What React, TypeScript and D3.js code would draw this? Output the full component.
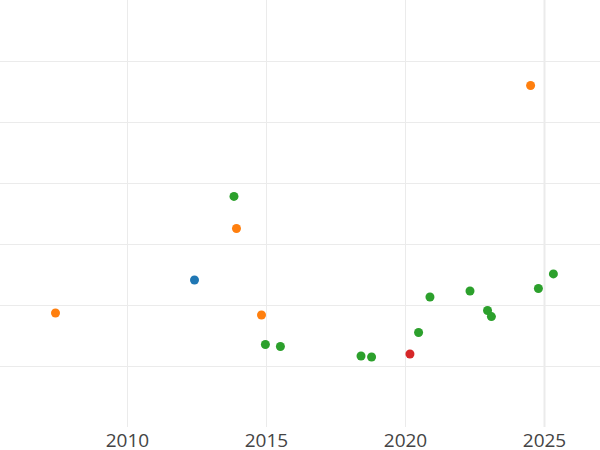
import React from "react";
import * as d3 from "d3";

const years: number[] = [2007.41, 2012.41, 2013.83, 2013.92, 2014.82, 2014.96, 2015.5, 2018.4, 2018.78, 2020.16, 2020.47, 2020.88, 2022.32, 2022.95, 2023.09, 2024.78, 2025.32, 2024.5];
const values: number[] = [0.869, 1.41, 2.78, 2.254, 0.836, 0.352, 0.32, 0.164, 0.148, 0.197, 0.549, 1.131, 1.23, 0.91, 0.81, 1.27, 1.51, 4.598];
const groups: string[] = ["B", "A", "C", "B", "B", "C", "C", "C", "C", "D", "C", "C", "C", "C", "C", "C", "C", "B"];
const groupNames: string[] = ["A", "B", "C", "D"];
const groupColors: string[] = ["#1f77b4", "#ff7f0e", "#2ca02c", "#d62728"];
const xTicks: number[] = [2010, 2015, 2020, 2025];
const yTicks: number[] = [0, 1, 2, 3, 4, 5];

export default function App() {
  const W = 600, H = 450;
  const plotBottom = 427;
  const x = d3.scaleLinear().domain([2005.414, 2026.996]).range([0, 600]);
  const y = d3.scaleLinear().domain([-1, 6]).range([plotBottom, 0]);
  const color = d3.scaleOrdinal<string, string>().domain(groupNames).range(groupColors);

  return (
    <svg width={W} height={H} style={{ position: "absolute", left: 0, top: 0, background: "#fff" }}>
      <g>
        {yTicks.map((t) => (
          <line key={"y" + t} x1={0} x2={W} y1={Math.round(y(t)) + 0.5} y2={Math.round(y(t)) + 0.5} stroke="#ebebeb" strokeWidth={1} />
        ))}
        {xTicks.map((t) => (
          <line key={"x" + t} x1={x(t)} x2={x(t)} y1={0} y2={plotBottom} stroke="#ebebeb" strokeWidth={t === 2025 ? 2 : 1} />
        ))}
      </g>
      <g>
        {years.map((yr, i) => (
          <circle key={i} cx={x(yr)} cy={y(values[i])} r={4.5} fill={color(groups[i])} />
        ))}
      </g>
      <g fontFamily="'Open Sans', sans-serif" fontSize={19} fill="#444" textAnchor="middle">
        {xTicks.map((t) => (
          <text key={"t" + t} x={x(t)} y={446.5}>{t}</text>
        ))}
      </g>
    </svg>
  );
}
